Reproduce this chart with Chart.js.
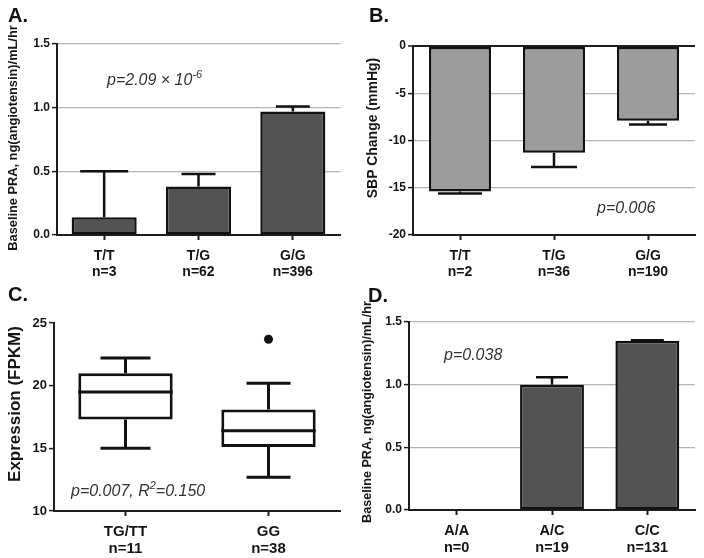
<!DOCTYPE html>
<html><head><meta charset="utf-8">
<script src="https://cdn.jsdelivr.net/npm/chart.js@4.4.1/dist/chart.umd.min.js"></script>
<style>
html,body{margin:0;padding:0;background:#fff;}
#wrap{position:relative;width:704px;height:558px;overflow:hidden;font-family:"Liberation Sans",Arial,sans-serif;color:#1a1a1a;}
.pane{position:absolute;width:352px;height:279px;}
.letter{position:absolute;font-weight:bold;font-size:20px;line-height:20px;color:#111;}
.pv{position:absolute;font-style:italic;font-size:16px;line-height:16px;color:#333;white-space:nowrap;}
.pv sup{font-size:11px;position:relative;top:-3px;vertical-align:top;line-height:11px;}
.ytitle{position:absolute;width:300px;height:20px;line-height:20px;text-align:center;font-weight:bold;color:#151515;white-space:nowrap;transform:rotate(-90deg);transform-origin:50% 50%;}
</style></head>
<body><div id="wrap">
<div class="pane" style="left:0;top:0"><canvas id="cA" width="352" height="279"></canvas></div>
<div class="pane" style="left:352px;top:0"><canvas id="cB" width="352" height="279"></canvas></div>
<div class="pane" style="left:0;top:279px"><canvas id="cC" width="352" height="279"></canvas></div>
<div class="pane" style="left:352px;top:279px"><canvas id="cD" width="352" height="279"></canvas></div>
<div class="letter" style="left:8px;top:5px">A.</div>
<div class="letter" style="left:369px;top:5px">B.</div>
<div class="letter" style="left:8px;top:284px">C.</div>
<div class="letter" style="left:368px;top:285px">D.</div>
<div class="ytitle" id="tA" style="left:-137px;top:128px;font-size:12.8px">Baseline PRA, ng(angiotensin)/mL/hr</div>
<div class="ytitle" id="tB" style="left:222px;top:118px;font-size:14px">SBP Change (mmHg)</div>
<div class="ytitle" id="tC" style="left:-135px;top:394px;font-size:17px">Expression (FPKM)</div>
<div class="ytitle" id="tD" style="left:217px;top:402px;font-size:12.6px">Baseline PRA, ng(angiotensin)/mL/hr</div>
<div class="pv" style="left:107px;top:72px">p=2.09 × 10<sup>-6</sup></div>
<div class="pv" style="left:597px;top:200px">p=0.006</div>
<div class="pv" style="left:71px;top:483px">p=0.007, R<sup>2</sup>=0.150</div>
<div class="pv" style="left:444px;top:347px">p=0.038</div>
</div>
<script>
// ---- Data ----
const genotypesA = ['T/T', 'T/G', 'G/G'];
const nA = [3, 62, 396];
const praA = [0.14, 0.38, 0.97];
const praAErr = [0.50, 0.48, 1.01];

const genotypesB = ['T/T', 'T/G', 'G/G'];
const nB = [2, 36, 190];
const sbpB = [-15.4, -11.3, -7.9];
const sbpBErr = [-15.6, -12.8, -8.3];

const genotypesC = ['TG/TT', 'GG'];
const nC = [11, 38];
const whiskerLowC = [15.0, 12.7];
const q1C = [17.3, 15.1];
const medianC = [19.5, 16.4];
const q3C = [21.0, 18.1];
const whiskerHighC = [22.2, 20.2];
const outlierC = [null, 23.7];

const genotypesD = ['A/A', 'A/C', 'C/C'];
const nD = [0, 19, 131];
const praD = [null, 1.00, 1.35];
const praDErr = [null, 1.06, 1.355];

// ---- Helpers ----
const FONT = '"Liberation Sans", Arial, sans-serif';
const AX = '#1e1e1e';
const GRID = '#b4b4b4';
const labelsOf = (cats, ns) => cats.map((c, i) => [c, 'n=' + ns[i]]);

const errorBars = {
  id: 'errbars',
  afterDatasetsDraw(chart, args, o) {
    if (!o.values) return;
    const ctx = chart.ctx, y = chart.scales.y;
    const meta = chart.getDatasetMeta(0);
    ctx.save();
    ctx.strokeStyle = '#111';
    ctx.lineWidth = o.lineWidth || 2.5;
    ctx.lineCap = 'butt';
    meta.data.forEach((bar, i) => {
      const v = o.values[i];
      if (v == null) return;
      const py = y.getPixelForValue(v);
      const cw = (o.caps && o.caps[i]) || 34;
      ctx.beginPath();
      ctx.moveTo(bar.x, bar.y);
      ctx.lineTo(bar.x, py);
      ctx.moveTo(bar.x - cw / 2, py);
      ctx.lineTo(bar.x + cw / 2, py);
      ctx.stroke();
    });
    ctx.restore();
  }
};

const boxParts = {
  id: 'boxparts',
  afterDatasetsDraw(chart, args, o) {
    if (!o.median) return;
    const ctx = chart.ctx, y = chart.scales.y;
    const meta = chart.getDatasetMeta(0);
    ctx.save();
    ctx.strokeStyle = '#111';
    ctx.lineWidth = 3;
    meta.data.forEach((bar, i) => {
      const x = bar.x, hw = bar.width / 2, cw = o.caps[i] / 2;
      const pm = y.getPixelForValue(o.median[i]);
      const p1 = y.getPixelForValue(o.q1[i]);
      const p3 = y.getPixelForValue(o.q3[i]);
      const pl = y.getPixelForValue(o.low[i]);
      const ph = y.getPixelForValue(o.high[i]);
      ctx.beginPath();
      ctx.moveTo(x - hw, pm); ctx.lineTo(x + hw, pm);
      ctx.moveTo(x, p3); ctx.lineTo(x, ph);
      ctx.moveTo(x - cw, ph); ctx.lineTo(x + cw, ph);
      ctx.moveTo(x, p1); ctx.lineTo(x, pl);
      ctx.moveTo(x - cw, pl); ctx.lineTo(x + cw, pl);
      ctx.stroke();
    });
    ctx.restore();
  }
};

function axes(o) {
  return {
    x: {
      grid: { display: true, drawOnChartArea: false, offset: false, tickLength: 5, tickColor: AX, tickWidth: 2 },
      border: { color: AX, width: 2 },
      ticks: { color: '#151515', padding: o.xpad || 8, font: { family: FONT, size: o.xsize || 14, weight: 'bold', lineHeight: 1.15 } },
      afterFit: s => { s.height = o.xh; }
    },
    y: {
      min: o.min, max: o.max,
      grid: {
        drawOnChartArea: o.grid !== false,
        color: c => (o.darkZero && c.tick.value === 0) ? AX : (c.tick.value === o.min ? 'rgba(0,0,0,0)' : GRID),
        lineWidth: c => (o.darkZero && c.tick.value === 0) ? 2 : 1.2,
        tickLength: 5, tickColor: AX, tickWidth: 1.5
      },
      border: { color: AX, width: 2 },
      ticks: {
        stepSize: o.step, color: '#151515', padding: 2,
        font: { family: FONT, size: o.tickSize || 12, weight: 'bold' },
        callback: v => o.dec ? Number(v).toFixed(1) : String(v)
      },
      title: { display: false },
      afterFit: s => { s.width = o.yw; }
    }
  };
}

function baseOpts(o) {
  return {
    responsive: false, animation: false, devicePixelRatio: 1,
    layout: { padding: { top: o.top, right: o.right, left: 0, bottom: 0 } },
    plugins: { legend: { display: false }, tooltip: { enabled: false }, title: { display: false } },
    scales: axes(o)
  };
}

// ---- Panel A ----
const oA = baseOpts({ top: 44, right: 12, yw: 57, xh: 44, min: 0, max: 1.5, step: 0.5, dec: true });
oA.plugins.errbars = { values: praAErr, caps: [48, 34, 34], lineWidth: 2.5 };
new Chart(document.getElementById('cA'), {
  type: 'bar',
  data: { labels: labelsOf(genotypesA, nA), datasets: [{ data: praA, backgroundColor: '#535353', borderColor: '#111', borderWidth: 2.5, borderSkipped: false, categoryPercentage: 1, barPercentage: 0.69 }] },
  options: oA, plugins: [errorBars]
});

// ---- Panel B ----
const oB = baseOpts({ top: 46, right: 9, yw: 61, xh: 44, min: -20, max: 0, step: 5, darkZero: true });
oB.plugins.errbars = { values: sbpBErr, caps: [44, 46, 38], lineWidth: 2.5 };
new Chart(document.getElementById('cB'), {
  type: 'bar',
  data: { labels: labelsOf(genotypesB, nB), datasets: [{ data: sbpB, backgroundColor: '#9c9c9c', borderColor: '#111', borderWidth: 2.5, borderSkipped: false, categoryPercentage: 1, barPercentage: 0.66 }] },
  options: oB, plugins: [errorBars]
});

// ---- Panel C ----
const oC = baseOpts({ top: 44, right: 12, yw: 54, xh: 47, min: 10, max: 25, step: 5, grid: false, tickSize: 13, xsize: 15, xpad: 7 });
oC.plugins.boxparts = { q1: q1C, q3: q3C, median: medianC, low: whiskerLowC, high: whiskerHighC, caps: [50, 44] };
new Chart(document.getElementById('cC'), {
  type: 'bar',
  data: {
    labels: labelsOf(genotypesC, nC),
    datasets: [
      { type: 'bar', data: q1C.map((q, i) => [q, q3C[i]]), backgroundColor: '#ffffff', borderColor: '#111', borderWidth: 3, borderSkipped: false, categoryPercentage: 1, barPercentage: 0.66 },
      { type: 'line', data: outlierC, showLine: false, pointRadius: 4.5, pointBackgroundColor: '#111', pointBorderColor: '#111', pointBorderWidth: 0 }
    ]
  },
  options: oC, plugins: [boxParts]
});

// ---- Panel D ----
const oD = baseOpts({ top: 43, right: 9, yw: 57, xh: 48, min: 0, max: 1.5, step: 0.5, dec: true, xsize: 14.5, xpad: 8 });
oD.plugins.errbars = { values: praDErr, caps: [34, 32, 33], lineWidth: 2.5 };
new Chart(document.getElementById('cD'), {
  type: 'bar',
  data: { labels: labelsOf(genotypesD, nD), datasets: [{ data: praD, backgroundColor: '#535353', borderColor: '#111', borderWidth: 2.5, borderSkipped: false, categoryPercentage: 1, barPercentage: 0.67 }] },
  options: oD, plugins: [errorBars]
});
</script>
</body></html>
